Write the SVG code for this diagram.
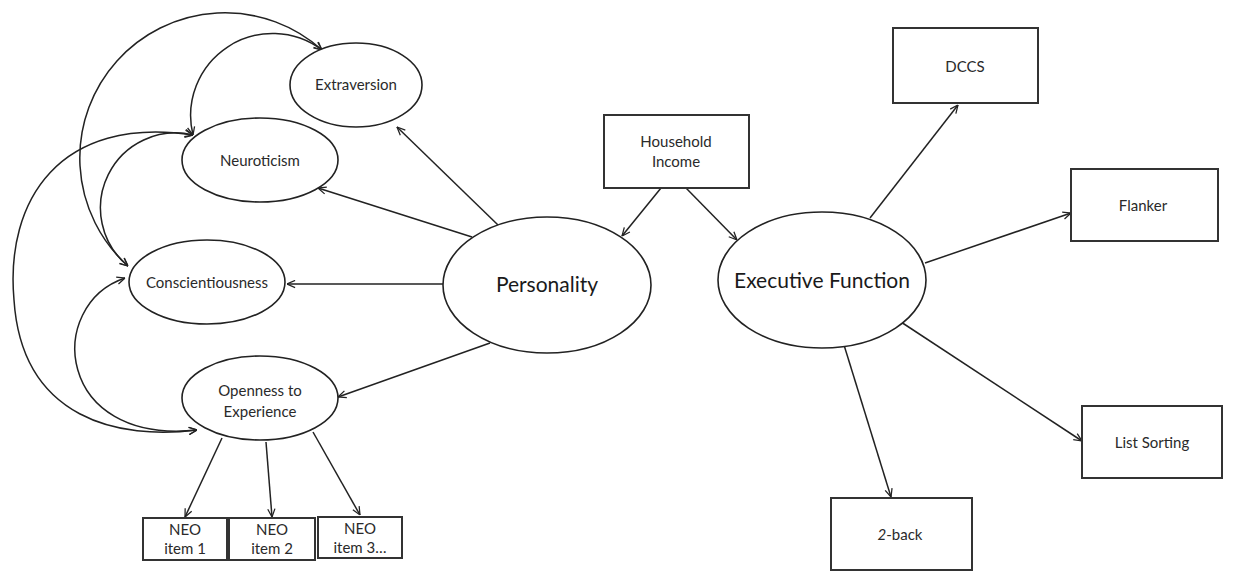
<svg xmlns="http://www.w3.org/2000/svg" width="1238" height="577" viewBox="0 0 1238 577">
<defs>
<marker id="arr" viewBox="0 0 10 10" refX="10" refY="5" markerWidth="9" markerHeight="9" markerUnits="userSpaceOnUse" orient="auto-start-reverse">
<path d="M1,1 L10,5 L1,9" fill="none" stroke="#222" stroke-width="1.4"/>
</marker>
</defs>
<style>
.n ellipse, .n rect { fill: #fff; stroke: #222; stroke-width: 1.6; }
.n rect { stroke: #333; stroke-width: 2; }
text { font-family: Lato, "Open Sans", "Liberation Sans", sans-serif; fill: #2a2a2a; text-anchor: middle; }
.s { font-size: 15px; }
.b { font-size: 21px; fill: #1a1a1a; }
#edges path, #edges line { fill: none; stroke: #222; stroke-width: 1.5; marker-end: url(#arr); }
#edges .cov { marker-start: url(#arr); }
</style>
<rect width="1238" height="577" fill="#fff"/>
<g id="edges">
<path class="cov" d="M128,266 A142,142 0 1 1 322,50"/>
<path class="cov" d="M193,135 A82,82 0 0 1 322,50"/>
<path class="cov" d="M193,135 A75,75 0 0 0 128,266"/>
<path class="cov" d="M193,135 C60,115 5,200 14,300 C22,420 120,440 197,430"/>
<path class="cov" d="M125,278 C45,305 55,445 197,430"/>
<line x1="498" y1="225" x2="397" y2="127"/>
<line x1="472" y1="237" x2="318" y2="188"/>
<line x1="443" y1="284" x2="287" y2="284"/>
<line x1="490" y1="343" x2="338" y2="397"/>
<line x1="661" y1="188" x2="622" y2="236"/>
<line x1="686" y1="188" x2="737" y2="240"/>
<line x1="870" y1="218" x2="958" y2="105"/>
<line x1="925" y1="263" x2="1071" y2="213"/>
<line x1="901" y1="322" x2="1082" y2="441"/>
<line x1="844" y1="345" x2="891" y2="497"/>
<line x1="222" y1="438" x2="185" y2="517"/>
<line x1="266" y1="442" x2="272" y2="517"/>
<line x1="313" y1="432" x2="360" y2="515"/>
</g>
<g id="extraversion" class="n"><ellipse cx="356" cy="85" rx="66" ry="42"/><text class="s" x="356" y="90">Extraversion</text></g>
<g id="neuroticism" class="n"><ellipse cx="260" cy="160" rx="78" ry="42"/><text class="s" x="260" y="166">Neuroticism</text></g>
<g id="conscientiousness" class="n"><ellipse cx="207" cy="282" rx="78" ry="42"/><text class="s" x="207" y="288">Conscientiousness</text></g>
<g id="openness" class="n"><ellipse cx="260" cy="398" rx="78" ry="42"/><text class="s" x="260" y="396">Openness to</text><text class="s" x="260" y="417">Experience</text></g>
<g id="neo1" class="n"><rect x="143" y="518" width="84" height="42"/><text class="s" x="185" y="535">NEO</text><text class="s" x="185" y="554">item 1</text></g>
<g id="neo2" class="n"><rect x="229" y="518" width="86" height="42"/><text class="s" x="272" y="535">NEO</text><text class="s" x="272" y="554">item 2</text></g>
<g id="neo3" class="n"><rect x="318" y="517" width="84" height="41"/><text class="s" x="360" y="534">NEO</text><text class="s" x="360" y="553">item 3…</text></g>
<g id="personality" class="n"><ellipse cx="547" cy="285" rx="104" ry="68"/><text class="b" x="547" y="292">Personality</text></g>
<g id="income" class="n"><rect x="604" y="115" width="145" height="73"/><text class="s" x="676" y="147">Household</text><text class="s" x="676" y="167">Income</text></g>
<g id="ef" class="n"><ellipse cx="822" cy="280" rx="104" ry="68"/><text class="b" x="822" y="288">Executive Function</text></g>
<g id="dccs" class="n"><rect x="893" y="28" width="145" height="75"/><text class="s" x="965" y="72">DCCS</text></g>
<g id="flanker" class="n"><rect x="1071" y="169" width="147" height="72"/><text class="s" x="1143" y="211">Flanker</text></g>
<g id="listsorting" class="n"><rect x="1082" y="406" width="140" height="72"/><text class="s" x="1152" y="448">List Sorting</text></g>
<g id="twoback" class="n"><rect x="831" y="498" width="141" height="72"/><text class="s" x="900" y="540"><tspan font-style="italic">2</tspan>-back</text></g>
</svg>
